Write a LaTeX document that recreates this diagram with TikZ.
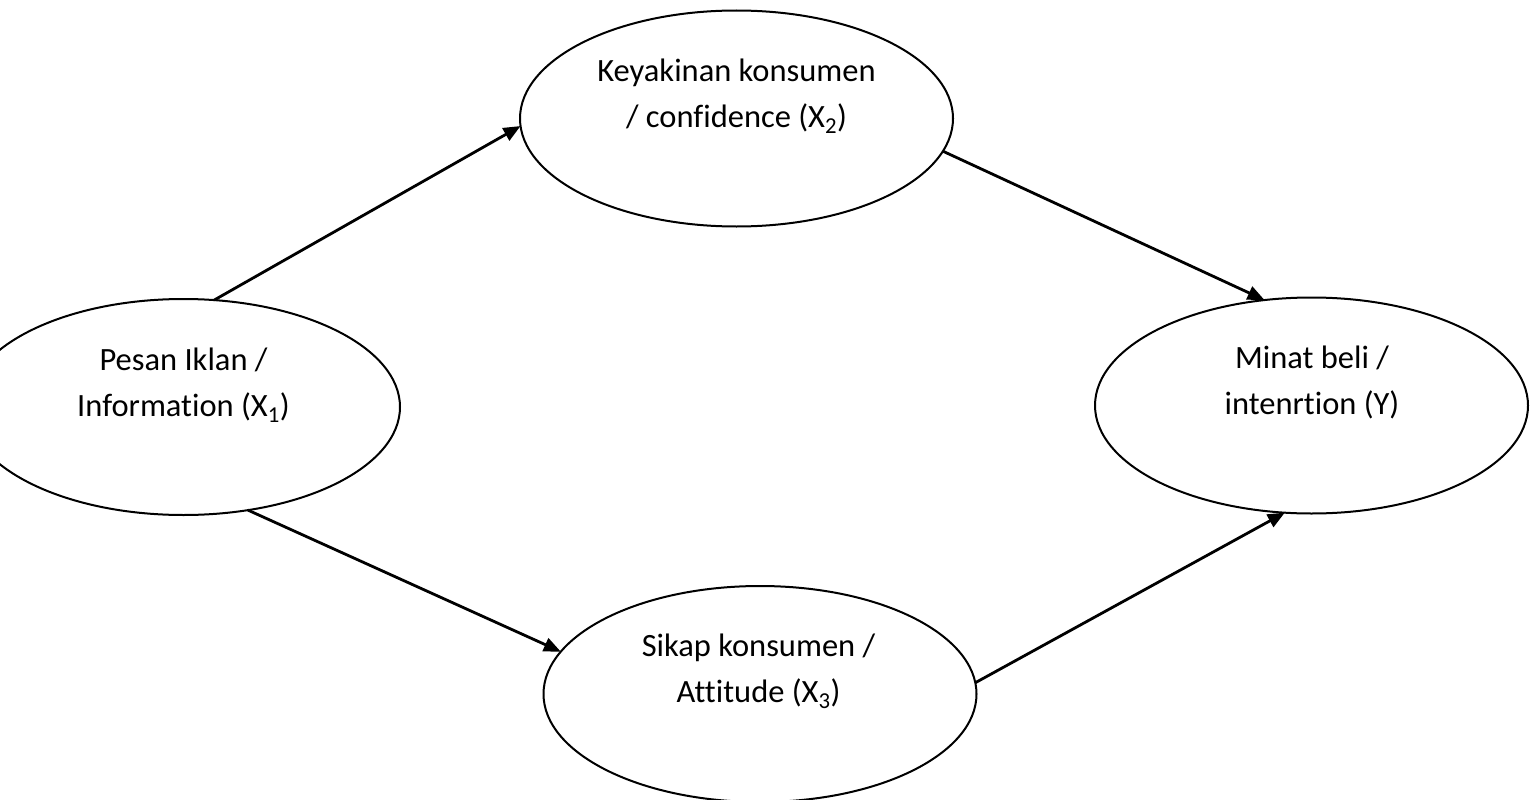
\documentclass[tikz,border=0pt]{standalone}
\usepackage{fontspec}
\setmainfont{Carlito}[RawFeature={-liga;-clig}]
\usetikzlibrary{shapes.geometric,arrows.meta}
\begin{document}
\begin{tikzpicture}[x=1pt,y=-1pt,
  var/.style={ellipse,draw,line width=2pt,minimum width=433pt,minimum height=216pt,inner sep=0pt,outer sep=0pt},
  lbl/.style={align=center,font=\fontsize{32.5}{46}\selectfont,anchor=base,inner sep=0pt},
  link/.style={line width=2.8pt,-{Triangle[length=17pt,width=14pt]}}]
\useasboundingbox (0,0) rectangle (1539,800);
\node[var] (x1) at (183.5,407) {};
\node[var] (x2) at (736.5,118.5) {};
\node[var] (y) at (1311.5,405.5) {};
\node[var] (x3) at (760,694) {};
\node[lbl] (t1) at (183.5,416) {Pesan Iklan /\\Information (X\textsubscript{1})};
\node[lbl] (t2) at (736.5,127) {Keyakinan konsumen\\/ confidence (X\textsubscript{2})};
\node[lbl] (ty) at (1312,414) {Minat beli /\\intenrtion (Y)};
\node[lbl] (t3) at (758.5,702) {Sikap konsumen /\\Attitude (X\textsubscript{3})};
\draw[link] (x1.74.9) -- (x2.182.5);
\draw[link] (x2.-9.1) -- (y.114.1);
\draw[link] (x1.302.9) -- (x3.168.4);
\draw[link] (x3.3.2) -- (y.256.4);
\end{tikzpicture}
\end{document}
